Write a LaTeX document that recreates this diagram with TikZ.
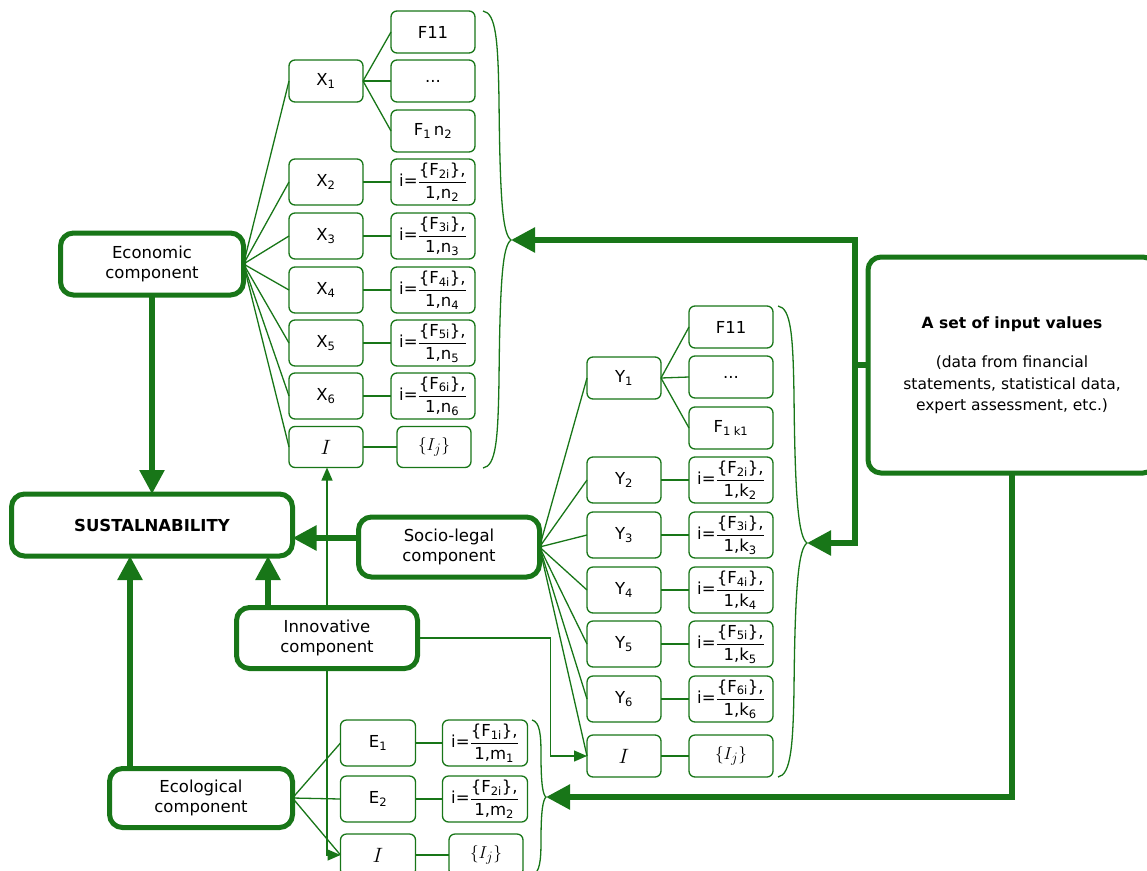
\documentclass[tikz,border=0pt]{standalone}
\usepackage{amsmath}
\usepackage{fontspec}
\setmainfont{DejaVu Sans}
\usetikzlibrary{arrows.meta,calc}
\definecolor{G}{RGB}{24,118,24}
\newcommand\frm[3]{i=$\dfrac{\mbox{\{F\textsubscript{#1}\},}}{\mbox{1,#2\textsubscript{#3}\rule{0pt}{12pt}}}$}
\newcommand\Ij{\fontsize{19}{19}\selectfont$\{I_j\}$}
\newcommand\bigI{\fontsize{21}{21}\selectfont$I$}
\begin{document}
\begin{tikzpicture}[x=1pt,y=-1pt,
 base/.style={font=\fontsize{16.5}{20}\selectfont, align=center, inner sep=0pt, outer sep=0pt, text=black},
 big/.style={base, draw=G, line width=5pt, rounded corners=13pt, fill=white},
 sm/.style={base, draw=G, line width=1.3pt, rounded corners=6pt, fill=white, minimum width=74pt, minimum height=46pt},
 fm/.style={sm, minimum width=84pt, font=\fontsize{16.5}{17}\selectfont},
 thn/.style={draw=G, line width=1.3pt},
 thk/.style={draw=G, line width=5.5pt},
 bigtip/.style={-{Triangle[length=24pt,width=24pt]}},
 smtip/.style={-{Triangle[length=13pt,width=11pt]}},
]
\useasboundingbox (0,0) rectangle (1147,870);

% main component boxes
\node[big, minimum width=183pt, minimum height=62pt] (econ) at (152,264) {Economic\\component};
\node[big, minimum width=281pt, minimum height=62pt, font=\fontsize{16.5}{20}\selectfont\bfseries] (sus) at (152,525) {SUSTALNABILITY};
\node[big, minimum width=181pt, minimum height=60pt] (soc) at (449,547) {Socio-legal\\component};
\node[big, minimum width=181pt, minimum height=61pt] (inn) at (327,638) {Innovative\\component};
\node[big, minimum width=183pt, minimum height=59pt] (ecol) at (201,798) {Ecological\\component};
\node[big, minimum width=288pt, minimum height=216pt, font=\fontsize{15.5}{21.5}\selectfont] (inp) at (1012,365)
  {\textbf{A set of input values}\\[18pt](data from financial\\statements, statistical data,\\expert assessment, etc.)};

% X group
\node[sm, minimum height=42pt] (x1) at (326,81) {X\textsubscript{1}};
\node[sm, minimum width=84pt, minimum height=42pt] (f11) at (433,32) {F11};
\node[sm, minimum width=84pt, minimum height=42pt] (fdots) at (433,81) {...};
\node[sm, minimum width=84pt, minimum height=42pt] (f1n) at (433,131) {F\textsubscript{1}\,n\textsubscript{2}};
\node[sm] (x2) at (326,182) {X\textsubscript{2}};
\node[sm] (x3) at (326,236) {X\textsubscript{3}};
\node[sm] (x4) at (326,290) {X\textsubscript{4}};
\node[sm] (x5) at (326,343) {X\textsubscript{5}};
\node[sm] (x6) at (326,396) {X\textsubscript{6}};
\node[fm] (fx2) at (433,182) {\frm{2i}{n}{2}};
\node[fm] (fx3) at (433,236) {\frm{3i}{n}{3}};
\node[fm] (fx4) at (433,290) {\frm{4i}{n}{4}};
\node[fm] (fx5) at (433,343) {\frm{5i}{n}{5}};
\node[fm] (fx6) at (433,396) {\frm{6i}{n}{6}};
\node[sm, minimum height=41pt] (XI) at (326,447) {\bigI};
\node[sm, minimum height=41pt] (XIj) at (434,447) {\Ij};

% Y group
\node[sm, minimum height=42pt] (y1) at (624,378) {Y\textsubscript{1}};
\node[sm, minimum width=84pt, minimum height=42pt] (yf11) at (731,327) {F11};
\node[sm, minimum width=84pt, minimum height=42pt] (ydots) at (731,377) {...};
\node[sm, minimum width=84pt, minimum height=42pt] (yf1k) at (731,428) {F\textsubscript{1}\,\textsubscript{k1}};
\node[sm] (y2) at (624,480) {Y\textsubscript{2}};
\node[sm] (y3) at (624,535) {Y\textsubscript{3}};
\node[sm] (y4) at (624,590) {Y\textsubscript{4}};
\node[sm] (y5) at (624,644) {Y\textsubscript{5}};
\node[sm] (y6) at (624,699) {Y\textsubscript{6}};
\node[fm] (fy2) at (731,480) {\frm{2i}{k}{2}};
\node[fm] (fy3) at (731,535) {\frm{3i}{k}{3}};
\node[fm] (fy4) at (731,590) {\frm{4i}{k}{4}};
\node[fm] (fy5) at (731,644) {\frm{5i}{k}{5}};
\node[fm] (fy6) at (731,699) {\frm{6i}{k}{6}};
\node[sm, minimum height=42pt] (YI) at (624,756) {\bigI};
\node[sm, minimum width=84pt, minimum height=42pt] (YIj) at (731,756) {\Ij};

% E group
\node[sm, minimum width=75pt] (e1) at (378,743) {E\textsubscript{1}};
\node[sm, minimum width=75pt] (e2) at (378,799) {E\textsubscript{2}};
\node[fm, minimum width=85pt] (fe1) at (485,743) {\frm{1i}{m}{1}};
\node[fm, minimum width=85pt] (fe2) at (485,799) {\frm{2i}{m}{2}};
\node[sm, minimum width=75pt, minimum height=42pt] (EI) at (378,855) {\bigI};
\node[sm, minimum height=42pt] (EIj) at (486,855) {\Ij};

% thin connectors
\foreach \n in {x1,x2,x3,x4,x5,x6,XI} \draw[thn] (econ.east) -- (\n.west);
\foreach \n in {f11,fdots,f1n} \draw[thn] (x1.east) -- (\n.west);
\foreach \a/\b in {x2/fx2,x3/fx3,x4/fx4,x5/fx5,x6/fx6,XI/XIj} \draw[thn] (\a.east) -- (\b.west);
\foreach \n in {y1,y2,y3,y4,y5,y6,YI} \draw[thn] (soc.east) -- (\n.west);
\foreach \n in {yf11,ydots,yf1k} \draw[thn] (y1.east) -- (\n.west);
\foreach \a/\b in {y2/fy2,y3/fy3,y4/fy4,y5/fy5,y6/fy6,YI/YIj} \draw[thn] (\a.east) -- (\b.west);
\foreach \n in {e1,e2,EI} \draw[thn] (ecol.east) -- (\n.west);
\foreach \a/\b in {e1/fe1,e2/fe2,EI/EIj} \draw[thn] (\a.east) -- (\b.west);

% innovative links
\draw[thn, smtip] (inn.north) -- (inn.north |- XI.south);
\draw[thn, smtip] (inn.south) |- (EI.west);
\draw[thn, smtip] (inn.east) -- ++(133,0) |- (YI.west);

% braces
\coordinate (tipX) at (511,240);
\coordinate (tipY) at (807,543);
\coordinate (tipE) at (546,797);
\draw[thn] (483,11) .. controls (496,13) and (498,40) .. (499,100) .. controls (500,205) and (503,234) .. (tipX)
  .. controls (503,246) and (500,275) .. (499,380) .. controls (498,440) and (496,466) .. (483,468);
\draw[thn] (778,306) .. controls (791,308) and (793,335) .. (794,395) .. controls (795,505) and (799,537) .. (tipY)
  .. controls (799,549) and (795,580) .. (794,690) .. controls (793,745) and (791,775) .. (778,777);
\draw[thn] (532,720) .. controls (540,722) and (541,735) .. (541,755) .. controls (541,785) and (543,795) .. (tipE)
  .. controls (543,800) and (541,810) .. (541,840) .. controls (541,860) and (540,873) .. (532,875);

% thick connectors
\coordinate (j) at ($(inp.west)+(-13,0)$);
\draw[thk] (inp.west) -- (j);
\draw[thk, bigtip] (j) |- (tipX);
\draw[thk, bigtip] (j) |- (tipY);
\draw[thk, bigtip] (inp.south) |- (tipE);

\draw[thk, bigtip] (econ.south) -- (sus.north);
\coordinate (s1) at ([yshift=9pt]soc.west);
\draw[thk, bigtip] (s1) -- (s1 -| sus.east);
\coordinate (i1) at ([xshift=-59pt]inn.north);
\draw[thk, bigtip] (i1) -- (i1 |- sus.south);
\coordinate (c1) at ([xshift=-71pt]ecol.north);
\draw[thk, bigtip] (c1) -- (c1 |- sus.south);
\end{tikzpicture}
\end{document}
